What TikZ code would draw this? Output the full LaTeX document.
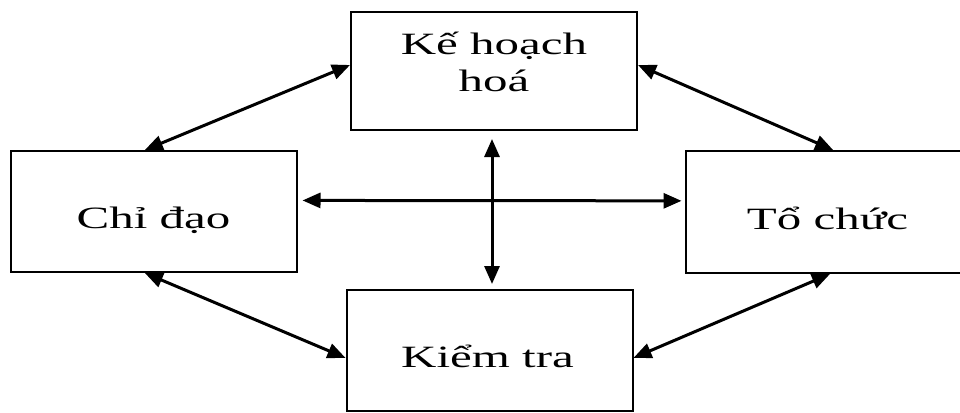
\documentclass[tikz,border=0pt]{standalone}
\usepackage{fontspec}
\setmainfont{Liberation Serif}[FakeStretch=1.58]
\usetikzlibrary{arrows.meta,calc}
\begin{document}
\begin{tikzpicture}[x=1pt,y=-1pt,
  box/.style={draw=black,line width=2pt,rectangle,inner sep=0pt,
    minimum width=286pt,minimum height=120pt},
  txt/.style={inner sep=0pt,align=center,text=black,
    font=\fontsize{31}{37}\selectfont},
  link/.style={line width=3pt,
    {Triangle[length=18pt,width=15pt]}-{Triangle[length=18pt,width=15pt]}}]
\useasboundingbox (0,0) rectangle (960,412);
\clip (0,0) rectangle (960,412);
\node[box,minimum height=118pt] (kh) at (494,71) {};
\node[box,minimum height=121pt] (cd) at (153.5,211.5) {};
\node[box,minimum height=122pt] (tc) at (828.5,212) {};
\node[box,minimum height=121pt] (kt) at (489.5,350.5) {};
\node[txt] (khT) at ($(kh.center)+(0,-9)$) {Kế hoạch\\hoá};
\node[txt] (cdT) at ($(cd.center)+(0,9)$) {Chỉ đạo};
\node[txt] (tcT) at ($(tc.center)+(-1,6)$) {Tổ chức};
\node[txt] (ktT) at ($(kt.center)+(-2,6)$) {Kiểm tra};
\draw[link] ($(kh.north west)!0.45!(kh.south west)$) -- ($(cd.north west)!0.47!(cd.north east)$);
\draw[link] ($(kh.north east)!0.45!(kh.south east)$) -- ($(tc.north west)!0.516!(tc.north east)$);
\draw[link] ($(cd.south west)!0.47!(cd.south east)$) -- ($(kt.north west)!0.56!(kt.south west)$);
\draw[link] ($(tc.south west)!0.505!(tc.south east)$) -- ($(kt.north east)!0.56!(kt.south east)$);
\draw[link] ($(cd.north east)!0.41!(cd.south east)+(5,0)$) -- ($(tc.north west)!0.41!(tc.south west)+(-3,0)$);
\draw[link] ($(kh.south)+(-2,8)$) -- ($(kt.north)+(2.5,-5)$);
\end{tikzpicture}
\end{document}
